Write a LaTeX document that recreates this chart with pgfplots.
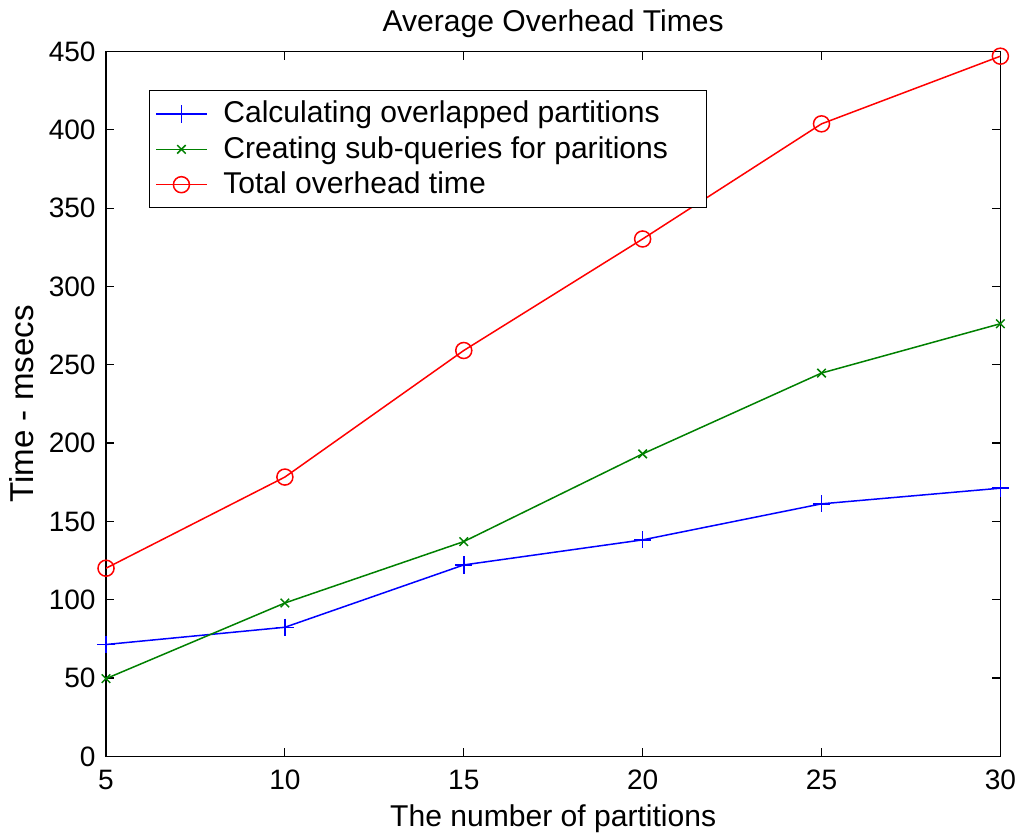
\documentclass[border=0pt]{standalone}
\usepackage{pgfplots}
\pgfplotsset{compat=1.18}
\usepackage{fontspec}
\setmainfont{Liberation Sans}
\begin{document}
\fontsize{15}{17}\selectfont
\begin{tikzpicture}
\begin{axis}[
  width=446pt, height=351.5pt, scale only axis,
  xmin=5, xmax=30, ymin=0, ymax=450,
  xtick={5,10,15,20,25,30},
  ytick={0,50,100,150,200,250,300,350,400,450},
  tick align=inside, major tick length=4pt,
  tick style={black, line width=0.6pt},
  axis line style={black, line width=0.7pt},
  /pgf/number format/assume math mode=true,
  ticklabel style={font=\fontsize{14}{16}\selectfont},
  yticklabel style={xshift=0pt},
  xticklabel style={inner xsep=1.5pt, yshift=-1.5pt},
  title={Average Overhead Times},
  title style={font=\fontsize{15}{17}\selectfont, yshift=-4.5pt},
  xlabel={The number of partitions},
  ylabel={Time - msecs},
  xlabel style={font=\fontsize{15}{17}\selectfont, inner ysep=1pt, yshift=-1.5pt},
  ylabel style={font=\fontsize{16.5}{18}\selectfont, yshift=-3pt},
  legend style={at={(0.048,0.945)}, anchor=north west, draw=black, line width=0.6pt,
    font=\fontsize{15}{17}\selectfont, cells={anchor=west}, inner sep=3pt,
    row sep=0.5pt},
  legend image code/.code={\draw[mark repeat=2,mark phase=2] plot coordinates {(0cm,0cm) (0.44cm,0cm) (0.88cm,0cm)};},
]
\addplot[color={rgb,255:red,0;green,0;blue,255}, line width=0.75pt, mark=+, mark size=4.3pt, mark options={line width=0.75pt}]
  coordinates {(5,71.4) (10,82.4) (15,122.2) (20,138.2) (25,161.2) (30,171.2)};
\addlegendentry{\hspace*{6pt}Calculating overlapped partitions}
\addplot[color={rgb,255:red,0;green,128;blue,0}, line width=0.75pt, mark=x, mark size=3pt, mark options={line width=0.75pt}]
  coordinates {(5,49.6) (10,97.9) (15,137.1) (20,193.1) (25,244.7) (30,276.2)};
\addlegendentry{\hspace*{6pt}Creating sub-queries for paritions\hspace*{14pt}}
\addplot[color={rgb,255:red,255;green,0;blue,0}, line width=0.75pt, mark=o, mark size=4pt, mark options={line width=0.75pt}]
  coordinates {(5,120.1) (10,178.3) (15,259.1) (20,330.3) (25,403.8) (30,447)};
\addlegendentry{\hspace*{6pt}Total overhead time}
\end{axis}
\end{tikzpicture}
\end{document}
